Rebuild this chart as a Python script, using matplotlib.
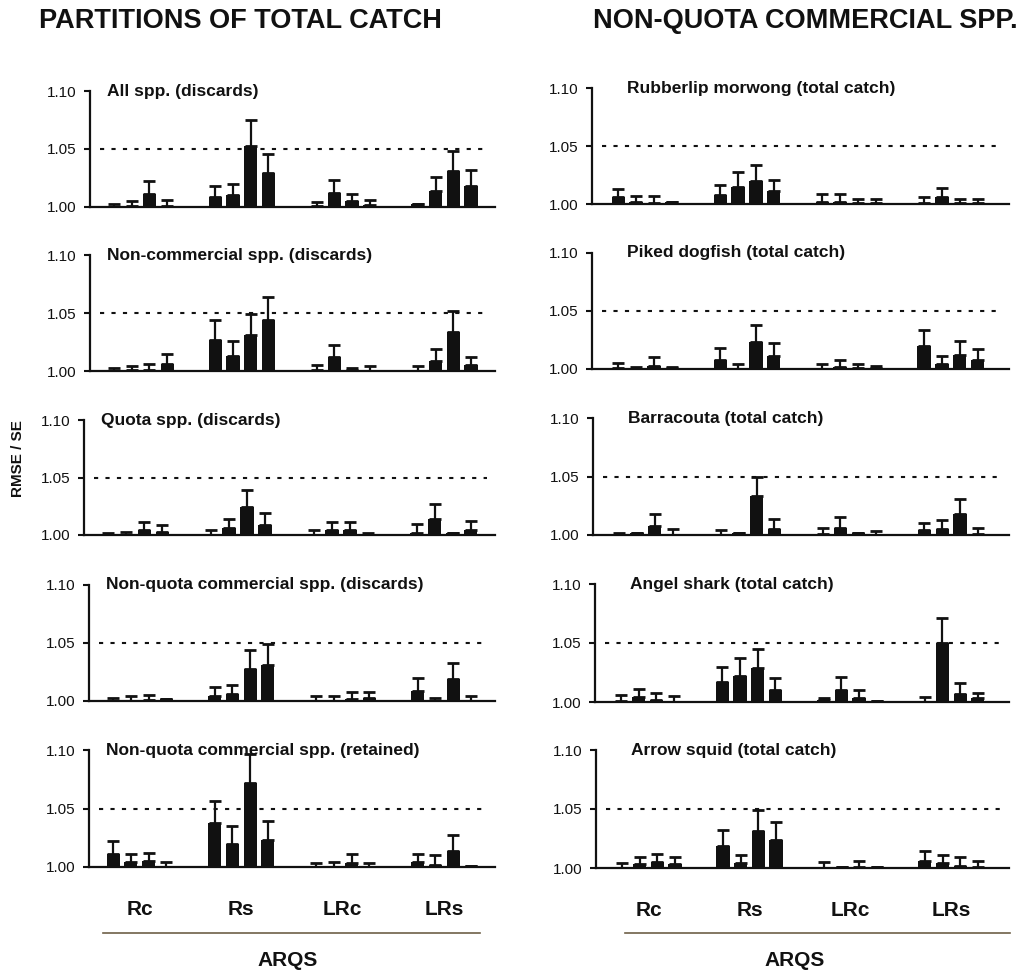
""" RMSE / SE ratios by ARQS variant, two columns of five panels """

import numpy as np
import matplotlib
matplotlib.use('Agg')
import matplotlib.pyplot as plt
from matplotlib.lines import Line2D

plt.rcParams['font.family'] = ['Liberation Sans', 'DejaVu Sans']

W, H = 1022, 973

groups = ['Rc', 'Rs', 'LRc', 'LRs']

# 4 bars per group (Rc, Rs, LRc, LRs); *_up = top of the error bar
all_spp = [1.000, 1.001, 1.011, 1.001, 1.009, 1.010, 1.053, 1.029,
           1.001, 1.012, 1.005, 1.002, 1.003, 1.014, 1.031, 1.018]
all_spp_up = [1.003, 1.005, 1.022, 1.006, 1.018, 1.020, 1.075, 1.046,
              1.004, 1.023, 1.011, 1.006, 1.003, 1.026, 1.048, 1.032]

non_comm = [1.000, 1.001, 1.001, 1.006, 1.027, 1.013, 1.031, 1.044,
            1.001, 1.012, 1.001, 1.000, 1.000, 1.009, 1.034, 1.005]
non_comm_up = [1.003, 1.004, 1.006, 1.015, 1.044, 1.026, 1.049, 1.064,
               1.005, 1.022, 1.003, 1.004, 1.004, 1.019, 1.052, 1.012]

quota = [1.000, 1.000, 1.004, 1.003, 1.000, 1.006, 1.024, 1.009,
         1.000, 1.004, 1.004, 1.000, 1.002, 1.014, 1.002, 1.004]
quota_up = [1.002, 1.003, 1.011, 1.009, 1.004, 1.014, 1.039, 1.019,
            1.004, 1.011, 1.011, 1.002, 1.010, 1.027, 1.002, 1.012]

nq_disc = [1.000, 1.000, 1.001, 1.002, 1.004, 1.006, 1.028, 1.031,
           1.000, 1.000, 1.002, 1.003, 1.009, 1.000, 1.019, 1.000]
nq_disc_up = [1.003, 1.004, 1.005, 1.002, 1.012, 1.014, 1.044, 1.049,
              1.004, 1.004, 1.008, 1.008, 1.020, 1.003, 1.033, 1.004]

nq_ret = [1.011, 1.004, 1.005, 1.000, 1.038, 1.020, 1.072, 1.023,
          1.000, 1.000, 1.003, 1.000, 1.004, 1.002, 1.014, 1.001]
nq_ret_up = [1.022, 1.011, 1.012, 1.004, 1.056, 1.035, 1.097, 1.039,
             1.003, 1.004, 1.011, 1.003, 1.011, 1.010, 1.027, 1.001]

rubberlip = [1.006, 1.002, 1.001, 1.002, 1.008, 1.015, 1.020, 1.011,
             1.002, 1.002, 1.001, 1.001, 1.001, 1.006, 1.001, 1.001]
rubberlip_up = [1.013, 1.007, 1.007, 1.002, 1.016, 1.028, 1.034, 1.021,
                1.009, 1.009, 1.004, 1.004, 1.006, 1.014, 1.004, 1.004]

dogfish = [1.001, 1.000, 1.003, 1.001, 1.008, 1.000, 1.023, 1.011,
           1.000, 1.002, 1.001, 1.001, 1.020, 1.004, 1.012, 1.008]
dogfish_up = [1.005, 1.002, 1.010, 1.002, 1.018, 1.004, 1.038, 1.022,
              1.004, 1.008, 1.004, 1.003, 1.034, 1.011, 1.024, 1.017]

barracouta = [1.000, 1.002, 1.008, 1.000, 1.000, 1.002, 1.033, 1.005,
              1.001, 1.006, 1.002, 1.000, 1.004, 1.005, 1.018, 1.001]
barracouta_up = [1.002, 1.002, 1.018, 1.005, 1.004, 1.002, 1.050, 1.014,
                 1.006, 1.015, 1.002, 1.003, 1.010, 1.013, 1.031, 1.006]

angel = [1.001, 1.004, 1.002, 1.000, 1.017, 1.022, 1.029, 1.010,
         1.002, 1.010, 1.003, 1.001, 1.000, 1.050, 1.007, 1.003]
angel_up = [1.006, 1.011, 1.008, 1.005, 1.030, 1.037, 1.045, 1.020,
            1.003, 1.021, 1.010, 1.001, 1.004, 1.071, 1.016, 1.008]

squid = [1.000, 1.003, 1.005, 1.003, 1.019, 1.004, 1.031, 1.024,
         1.000, 1.001, 1.001, 1.001, 1.006, 1.004, 1.002, 1.001]
squid_up = [1.004, 1.009, 1.012, 1.009, 1.032, 1.011, 1.049, 1.039,
            1.005, 1.001, 1.006, 1.001, 1.014, 1.011, 1.009, 1.006]

left_panels = [('All spp. (discards)', all_spp, all_spp_up),
               ('Non-commercial spp. (discards)', non_comm, non_comm_up),
               ('Quota spp. (discards)', quota, quota_up),
               ('Non-quota commercial spp. (discards)', nq_disc, nq_disc_up),
               ('Non-quota commercial spp. (retained)', nq_ret, nq_ret_up)]
right_panels = [('Rubberlip morwong (total catch)', rubberlip, rubberlip_up),
                ('Piked dogfish (total catch)', dogfish, dogfish_up),
                ('Barracouta (total catch)', barracouta, barracouta_up),
                ('Angel shark (total catch)', angel, angel_up),
                ('Arrow squid (total catch)', squid, squid_up)]

# axes boxes in pixels: (left, top, right, bottom)
left_boxes = [(90, 91, 495, 207), (90, 255, 495, 371), (84, 420, 495, 535),
              (89, 585, 495, 701), (89, 750, 495, 867)]
right_boxes = [(592, 88, 1009, 204), (592, 253, 1009, 369), (593, 418, 1009, 535),
               (595, 584, 1009, 702), (596, 750, 1009, 868)]

INK = '#111111'
BAR_W = 0.13
offsets = np.array([-1.5, -0.5, 0.5, 1.5]) * 0.175
xpos = (np.arange(len(groups))[:, None] + offsets[None, :]).ravel()

fig = plt.figure(figsize=(W / 100, H / 100), dpi=100)


def draw_panel(box, title, vals, ups, xlim, title_x, bottom):
    l, t, r, b = box
    ax = fig.add_axes([l / W, 1 - b / H, (r - l) / W, (b - t) / H])
    vals = np.asarray(vals)
    ups = np.asarray(ups)
    ax.bar(xpos, vals - 1.0, bottom=1.0, width=BAR_W, color=INK, zorder=3)
    ax.errorbar(xpos, vals, yerr=[np.zeros_like(vals), ups - vals], fmt='none',
                ecolor=INK, elinewidth=1.6, capsize=4.5, capthick=2.0, zorder=3)
    ax.axhline(1.05, xmin=0.025, xmax=0.98, color=INK, lw=1.5,
               linestyle=(0, (2, 3.5)), zorder=1)
    ax.set_xlim(*xlim)
    ax.set_ylim(1.0, 1.10)
    ax.set_yticks([1.00, 1.05, 1.10])
    ax.set_yticklabels(['1.00', '1.05', '1.10'])
    for s in ['top', 'right']:
        ax.spines[s].set_visible(False)
    for s in ['left', 'bottom']:
        ax.spines[s].set_linewidth(1.6)
        ax.spines[s].set_color(INK)
    ax.tick_params(axis='y', length=4, width=1.5, pad=6, labelsize=11, colors=INK)
    if bottom:
        ax.set_xticks(range(len(groups)))
        ax.set_xticklabels(groups, fontsize=15, fontweight='bold')
        ax.tick_params(axis='x', length=0, pad=24, colors=INK)
    else:
        ax.set_xticks([])
    ax.text(title_x, 1.10, title, transform=ax.get_yaxis_transform(),
            ha='left', va='center', fontsize=12.5, fontweight='bold', color=INK)
    return ax


for i, (box, (title, v, u)) in enumerate(zip(left_boxes, left_panels)):
    draw_panel(box, title, v, u, (-0.5, 3.5), 0.042, i == 4)
for i, (box, (title, v, u)) in enumerate(zip(right_boxes, right_panels)):
    draw_panel(box, title, v, u, (-0.52, 3.57), 0.084, i == 4)

fig.text(240 / W, 1 - 21 / H, 'PARTITIONS OF TOTAL CATCH', ha='center', va='center',
         fontsize=19.5, fontweight='bold', color=INK)
fig.text(805 / W, 1 - 21 / H, 'NON-QUOTA COMMERCIAL SPP.', ha='center', va='center',
         fontsize=19.5, fontweight='bold', color=INK)
fig.text(18 / W, 1 - 459 / H, 'RMSE / SE', rotation=90, ha='center', va='center',
         fontsize=11, fontweight='bold', color=INK)

# rule under the group labels and the ARQS caption
for x0, x1, xc in [(103, 480, 288), (625, 1010, 795)]:
    fig.add_artist(Line2D([x0 / W, x1 / W], [1 - 933 / H, 1 - 933 / H],
                          color='#6e6048', lw=1.2))
    fig.text(xc / W, 1 - 961 / H, 'ARQS', ha='center', va='center',
             fontsize=15, fontweight='bold', color=INK)

fig.savefig('out.png', dpi=100)
